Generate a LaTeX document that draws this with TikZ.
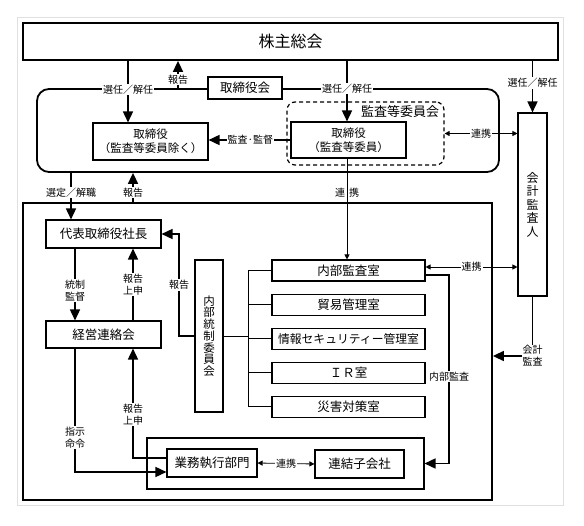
\documentclass[tikz,border=0pt]{standalone}
\usepackage{fontspec}
\setmainfont{Noto Sans CJK JP}
\usetikzlibrary{positioning, arrows.meta, calc}

\begin{document}
\begin{tikzpicture}[x=1pt, y=-1pt, node distance=12pt]
        \tikzstyle{bigbox} = [rectangle, draw, line width=1.8pt, inner sep=0pt]
        \tikzstyle{unit} = [rectangle, draw, line width=1.1pt, fill=white, inner sep=0pt, align=center, font=\fontsize{12.5}{14}\selectfont]
        \tikzstyle{office} = [unit, minimum width=153pt, minimum height=21pt]
        \tikzstyle{tag} = [fill=white, inner sep=1pt, align=center, font=\fontsize{10}{12}\selectfont]
        \tikzstyle{bigarrow} = [line width=1.6pt, -{Triangle[length=11pt,width=10pt]}]
        \tikzstyle{link} = [line width=0.8pt, {Triangle[length=5pt,width=5pt]}-{Triangle[length=5pt,width=5pt]}]
        \tikzstyle{thin} = [line width=0.8pt]

        \useasboundingbox [fill=white] (0,0) rectangle (584,526);
        \draw [black!12, line width=0.8pt] (17,17) rectangle (563,505);

        % shareholders and board
        \node [bigbox, minimum width=535pt, minimum height=37pt, font=\fontsize{16}{18}\selectfont] (gm) at (290.5,41.5) {株主総会};
        \node [bigbox, rounded corners=12pt, minimum width=462pt, minimum height=83pt] (board) at (268,130.5) {};
        \node [unit, minimum width=74pt, minimum height=22pt] (bod) at (245,88) {取締役会};
        \node [unit, minimum width=115pt, minimum height=37pt, font=\fontsize{11.5}{14}\selectfont] (dir1) at (150.5,141.5) {取締役\\（監査等委員除く）};
        \node [rectangle, draw, line width=1.2pt, dash pattern=on 4pt off 3pt, rounded corners=8pt, minimum width=157pt, minimum height=63pt] (acom) at (365.5,133.5) {};
        \node [font=\fontsize{13}{15}\selectfont] (acomname) at (400,112) {監査等委員会};
        \node [unit, minimum width=115pt, minimum height=36pt, font=\fontsize{11.5}{14}\selectfont] (dir2) at (348.5,140) {取締役\\（監査等委員）};
        \node [unit, minimum width=29pt, minimum height=183pt, font=\fontsize{12}{13.5}\selectfont] (cpa) at (532.5,204.5) {会\\計\\監\\査\\人};

        % company
        \node [bigbox, minimum width=469pt, minimum height=297pt] (main) at (257.5,351.5) {};
        \node [unit, minimum width=115pt, minimum height=28pt] (pres) at (103.5,234) {代表取締役社長};
        \node [unit, minimum width=115pt, minimum height=27pt] (liaison) at (103.5,334.5) {経営連絡会};
        \node [unit, minimum width=28pt, minimum height=152pt, font=\fontsize{11.5}{11.7}\selectfont] (icc) at (209,336) {内\\部\\統\\制\\委\\員\\会};

        \node [office] (audit) at (348.5,270.5) {内部監査室};
        \node [office, below=of audit] (trade) {貿易管理室};
        \node [office, below=of trade, font=\fontsize{11.8}{14}\selectfont] (infosec) {情報セキュリティー管理室};
        \node [office, below=of infosec] (ir) {ＩＲ室};
        \node [office, below=of ir] (disaster) {災害対策室};

        \node [rectangle, draw, line width=1.1pt, minimum width=277pt, minimum height=51pt] (group) at (285.5,463.5) {};
        \node [unit, minimum width=90pt, minimum height=28pt] (exec) at (212,463) {業務執行部門};
        \node [unit, minimum width=89pt, minimum height=28pt] (subsid) at (359.5,464) {連結子会社};

        \coordinate (xsel) at (128,0);
        \coordinate (xrep) at (178,0);
        \coordinate (xdes) at (71,0);
        \coordinate (xup) at (133,0);
        \coordinate (xacm) at (347,0);
        \coordinate (xctl) at (75,0);
        \coordinate (xicc) at (179,0);
        \coordinate (xbr) at (248,0);
        \coordinate (xia) at (449,0);

        \draw [bigarrow] (gm.south -| xsel) -- node [tag, pos=0.46] {選任／解任} (dir1.north -| xsel);
        \draw [bigarrow] (board.north -| xrep) -- node [tag, pos=0.31] {報告} (gm.south -| xrep);
        \draw [bigarrow] (gm.south -| xacm) -- node [tag, pos=0.46] {選任／解任} (dir2.north -| xacm);
        \draw [bigarrow] (gm.south -| cpa.north) -- node [tag, pos=0.43] {選任／解任} (cpa.north);
        \draw [bigarrow] (dir2.west) -- node [tag, pos=0.49] {監査·監督} (dir2.west -| dir1.east);
        \draw [link] (acom.east) -- node [tag] {連携} (acom.east -| cpa.west);

        \draw [bigarrow] (board.south -| xdes) -- node [tag, pos=0.42] {選定／解職} (pres.north -| xdes);
        \draw [bigarrow] (main.north -| xup) -- node [tag, pos=0.32] {報告} (board.south -| xup);
        \draw [thin, -{Triangle[length=5pt,width=5pt]}] (dir2.south -| xacm) -- node [tag, fill=none, pos=0.34] {連\hspace{4pt}携} (audit.north -| xacm);

        \draw [bigarrow] (pres.south -| xctl) -- node [tag, pos=0.58] {統制\\監督} (liaison.north -| xctl);
        \draw [bigarrow] (liaison.north -| xup) -- node [tag] {報告\\上申} (pres.south -| xup);
        \draw [bigarrow] (icc.west) -- (icc.west -| xicc) |- node [tag, pos=0.25] {報告} (pres.east);

        \draw [thin] (icc.east) -- (icc.east -| xbr);
        \draw [thin] (audit.west -| xbr) -- (disaster.west -| xbr);
        \foreach \n in {audit, trade, infosec, ir, disaster}
            \draw [thin] (\n.west -| xbr) -- (\n.west);

        \draw [link] ([yshift=3.5pt]audit.east) -- node [tag] {連携} ([yshift=3.5pt]audit.east -| cpa.west);
        \draw [bigarrow] ([yshift=-4.5pt]audit.east) -| node [tag, pos=0.77] {内部監査} (xia |- group.east) -- (group.east);
        \draw [bigarrow] (cpa.south) |- node [tag] {会計\\監査} ([yshift=-4.5pt]main.east);

        \draw [bigarrow] (liaison.south -| xctl) |- node [tag, pos=0.36] {指示\\命令} ([yshift=-9pt]exec.west);
        \draw [bigarrow] ([yshift=5pt]exec.west) -| node [tag, pos=0.7] {報告\\上申} (liaison.south -| xup);
        \draw [link] (exec.east) -- node [tag] {連携} (subsid.west);
    \end{tikzpicture}
\end{document}
